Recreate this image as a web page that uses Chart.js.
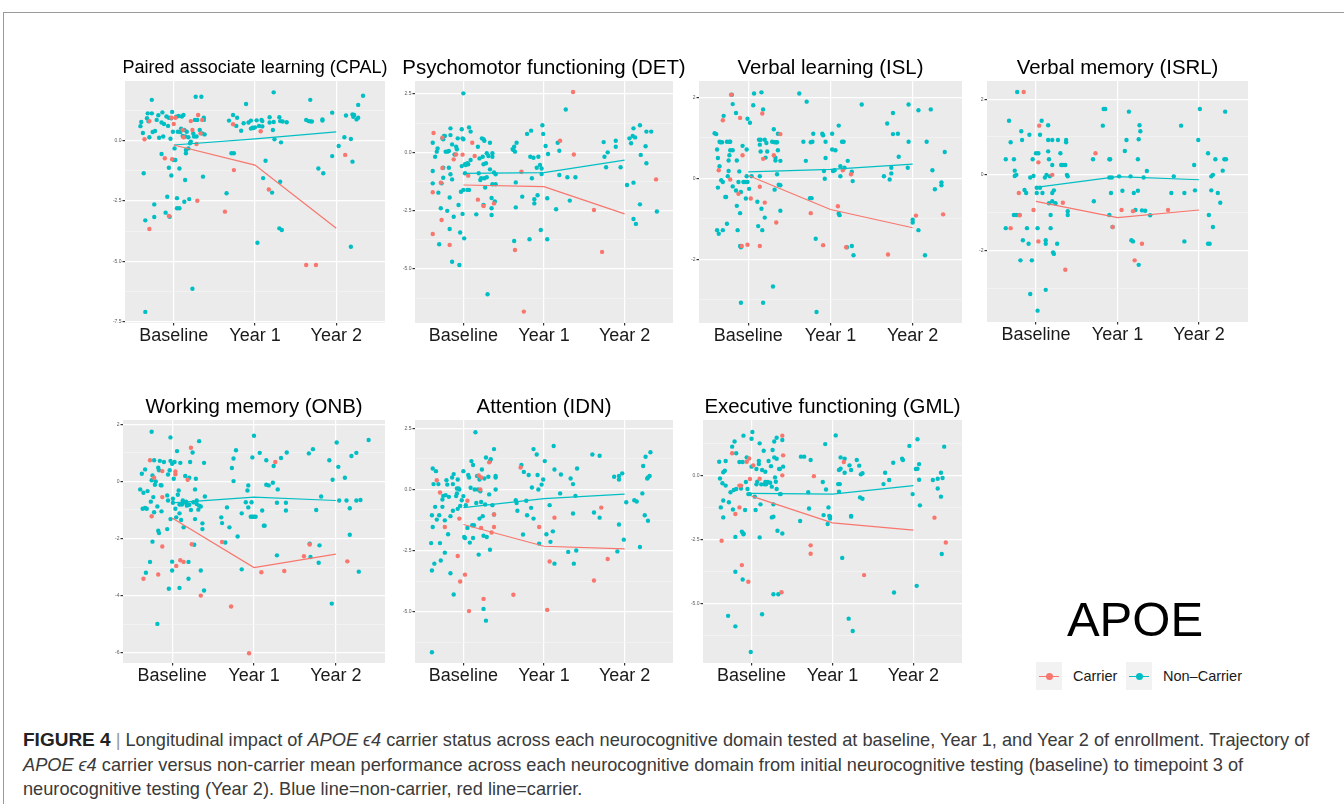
<!DOCTYPE html>
<html>
<head>
<meta charset="utf-8">
<script src="https://cdn.jsdelivr.net/npm/chart.js@4.4.1/dist/chart.umd.min.js"></script>
<style>
  html, body { margin: 0; padding: 0; background: #fff; }
  body { width: 1344px; height: 804px; position: relative; overflow: hidden; font-family: 'Liberation Sans', Arial, sans-serif; }
  #frame { position: absolute; left: 3px; top: 12px; right: -2px; bottom: -2px; border-top: 1px solid #9a9a9a; border-left: 1px solid #9a9a9a; }
  canvas { position: absolute; }
  #apoe { position: absolute; left: 1035px; width: 200px; top: 595px; font-size: 49px; line-height: 49px; text-align: center; color: #000; }
  .key { position: absolute; top: 662px; width: 26px; height: 28px; background: #f2f2f2; }
  .key::before { content: ''; position: absolute; left: 3px; right: 3px; top: 13.5px; height: 1.3px; background: var(--c); }
  .key::after { content: ''; position: absolute; left: 9.5px; top: 10.5px; width: 7px; height: 7px; border-radius: 50%; background: var(--c); }
  .ktxt { position: absolute; top: 669px; font-size: 14.5px; line-height: 14.5px; color: #1a1a1a; white-space: nowrap; }
  #caption { position: absolute; left: 23px; top: 728px; font-size: 18.2px; line-height: 24.5px; color: #3a3a3a; white-space: nowrap; }
  #caption b { color: #222; font-size: 19px; }
  #caption .sep { color: #999; }
</style>
</head>
<body>
<div id="frame"></div>

<canvas id="p1"></canvas>
<canvas id="p2"></canvas>
<canvas id="p3"></canvas>
<canvas id="p4"></canvas>
<canvas id="p5"></canvas>
<canvas id="p6"></canvas>
<canvas id="p7"></canvas>

<div id="apoe">APOE</div>
<div class="key" style="left:1036px; --c:#F8766D"></div>
<div class="ktxt" style="left:1073px">Carrier</div>
<div class="key" style="left:1126px; --c:#00BFC4"></div>
<div class="ktxt" style="left:1163px">Non–Carrier</div>

<div id="caption">
  <b>FIGURE 4</b> <span class="sep">|</span> Longitudinal impact of <i>APOE ϵ4</i> carrier status across each neurocognitive domain tested at baseline, Year 1, and Year 2 of enrollment. Trajectory of<br>
  <i>APOE ϵ4</i> carrier versus non-carrier mean performance across each neurocognitive domain from initial neurocognitive testing (baseline) to timepoint 3 of<br>
  neurocognitive testing (Year 2). Blue line=non-carrier, red line=carrier.
</div>

<script>
const timepoints = ["Baseline", "Year 1", "Year 2"];

// each point: [jittered timepoint, score]
const cpalCarrier = [[-0.36,0.06],[-0.30,0.81],[-0.30,-3.66],[-0.11,-0.73],[-0.06,-3.12],[-0.03,0.95],[-0.02,-0.77],[0.0,0.69],[0.02,0.95],[0.12,0.14],[0.11,0.44],[0.21,0.81],[0.23,0.44],[0.28,-0.14],[0.29,-2.49],[0.30,1.06],[0.33,0.3],[0.35,0.86],
  [0.63,-2.94],[0.73,0.68],[0.74,-1.22],[1.07,0.39],[1.17,-2.02],[1.63,-5.15],[1.75,-5.15],[2.11,-0.59]];
const cpalNonCarrier = [[-0.41,0.6],[-0.40,0.77],[-0.38,0.32],[-0.37,-1.35],[-0.35,-3.3],[-0.35,-7.09],[-0.33,0.93],[-0.32,1.13],[-0.31,0.8],[-0.30,0.14],[-0.27,1.69],[-0.27,1.13],[-0.26,0.36],[-0.24,-2.64],[-0.24,-3.16],[-0.23,0.4],[-0.21,0.86],[-0.19,1.05],[-0.18,0.12],[-0.15,-0.55],[-0.15,0.75],[-0.14,1.17],[-0.13,0.17],[-0.12,0.69],[-0.10,-2.98],[-0.09,1.0],[-0.08,-2.32],[-0.07,0.61],[-0.06,0.95],[-0.06,-1.12],[-0.05,-3.15],[-0.04,0.08],[-0.03,-1.44],[-0.03,0.93],[-0.02,1.19],[-0.01,0.37],[0.0,-0.8],[0.01,-0.32],[0.02,-0.8],[0.03,0.99],[0.04,-2.38],[0.04,-2.8],[0.05,0.37],[0.06,1.02],[0.07,-2.8],[0.07,-1.15],[0.08,0.36],[0.09,0.5],[0.10,1.0],[0.11,0.19],[0.12,1.06],[0.13,0.44],[0.13,-2.53],[0.14,-1.63],[0.14,0.17],[0.15,-0.39],[0.15,-0.52],[0.16,0.37],[0.18,0.14],[0.18,-0.32],[0.19,-2.42],[0.20,-0.11],[0.21,-0.04],[0.23,-6.13],[0.24,0.3],[0.25,0.17],[0.26,0.86],[0.27,1.82],[0.28,0.17],[0.29,0.86],[0.32,0.44],[0.34,1.82],[0.35,0.3],[0.36,-1.49],[0.37,0.86],[0.37,0.95],[0.38,0.26],
  [0.65,-2.18],[0.68,0.83],[0.71,-0.52],[0.73,1.06],[0.74,-0.52],[0.77,0.61],[0.78,0.95],[0.83,0.41],[0.86,0.72],[0.89,1.52],[0.92,0.75],[0.95,0.5],[0.95,0.83],[0.97,0.54],[0.98,0.52],[1.0,0.55],[1.02,0.84],[1.03,-4.23],[1.05,0.61],[1.08,0.86],[1.09,0.81],[1.09,0.59],[1.10,-1.55],[1.13,-0.83],[1.18,0.97],[1.18,0.75],[1.21,-2.15],[1.23,2.0],[1.23,0.77],[1.22,0.44],[1.24,0.06],[1.30,0.97],[1.31,0.81],[1.32,-0.07],[1.31,-1.7],[1.30,-3.63],[1.33,-3.7],[1.34,0.79],[1.39,0.76],
  [1.63,0.86],[1.66,0.81],[1.68,1.69],[1.68,0.8],[1.70,0.79],[1.78,-1.15],[1.83,0.83],[1.83,0.88],[1.84,-1.35],[1.95,-0.64],[1.95,1.16],[2.03,-0.22],[2.10,0.14],[2.12,1.04],[2.18,-4.39],[2.18,0.07],[2.20,1.09],[2.20,-0.87],[2.21,0.99],[2.22,1.06],[2.25,0.88],[2.27,0.95],[2.27,1.48],[2.33,1.86]];
const cpalCarrierMean = [-0.18, -1.01, -3.63];
const cpalNonCarrierMean = [-0.18, 0.07, 0.36];

const detCarrier = [[-0.38,-3.5],[-0.38,-1.71],[-0.37,0.83],[-0.28,-1.3],[-0.27,-2.9],[-0.26,0.63],[-0.26,-0.67],[-0.17,-3.97],[-0.12,-0.3],[-0.09,-0.09],[-0.01,-0.1],[0.06,-1.0],[0.11,0.41],[0.14,-0.16],[0.18,-2.03],[0.25,-2.3],[0.38,-2.19],
  [0.64,-4.19],[0.72,-0.83],[0.75,-6.83],[1.20,0.5],[1.36,2.59],[1.37,-0.09],[1.62,-2.47],[1.72,-4.27],[2.39,-1.16]];
const detNonCarrier = [[-0.38,0.41],[-0.38,-0.8],[-0.38,-1.33],[-0.35,-0.19],[-0.33,0.03],[-0.32,0.17],[-0.31,-1.73],[-0.30,-3.94],[-0.28,-2.4],[-0.27,-1.33],[-0.26,0.6],[-0.25,-0.66],[-0.25,0.56],[-0.25,-1.09],[-0.24,0.7],[-0.23,0.7],[-0.22,0.03],[-0.20,-2.51],[-0.20,0.03],[-0.18,0.06],[-0.18,-0.66],[-0.17,-1.94],[-0.17,-3.29],[-0.16,1.03],[-0.16,-0.94],[-0.16,0.74],[-0.14,-1.16],[-0.14,0.34],[-0.14,-4.69],[-0.12,-2.76],[-0.11,-0.09],[-0.09,0.24],[-0.08,0.13],[-0.07,0.6],[-0.06,-2.26],[-0.05,-4.83],[-0.04,-3.44],[-0.03,-1.69],[-0.02,0.99],[-0.02,-0.59],[-0.01,0.6],[-0.01,-2.64],[0.0,-1.61],[0.0,2.53],[0.0,0.56],[0.01,-3.69],[0.02,-0.51],[0.02,-0.9],[0.03,-0.54],[0.05,-0.47],[0.05,-1.61],[0.06,-0.51],[0.07,-1.61],[0.07,1.07],[0.09,-0.33],[0.09,0.89],[0.16,-2.66],[0.18,0.24],[0.19,-0.9],[0.20,-0.26],[0.21,-1.19],[0.22,-1.11],[0.23,0.6],[0.24,-0.19],[0.25,-2.26],[0.25,0.56],[0.25,-0.51],[0.26,0.5],[0.26,-1.11],[0.27,-1.51],[0.28,-0.47],[0.29,-1.07],[0.29,-0.04],[0.30,-6.09],[0.31,-0.16],[0.33,-0.73],[0.33,0.41],[0.35,-2.4],[0.35,-2.69],[0.35,-1.96],[0.36,-1.37],[0.36,-0.19],[0.36,-0.04],[0.38,-0.86],[0.39,-2.11],[0.40,-1.37],[0.40,-0.94],
  [0.61,0.14],[0.62,0.1],[0.63,0.24],[0.64,0.03],[0.63,-3.8],[0.65,-1.29],[0.65,-2.36],[0.66,0.41],[0.73,-1.9],[0.79,0.79],[0.82,-3.73],[0.83,-0.19],[0.84,0.93],[0.85,-1.11],[0.87,-0.23],[0.88,-2.01],[0.88,-2.19],[0.91,-0.66],[0.92,-1.84],[0.93,-0.19],[0.95,-0.54],[0.96,-3.33],[0.97,-0.69],[0.97,-0.93],[0.98,1.16],[0.99,0.79],[1.02,0.27],[1.04,-3.73],[1.04,-1.97],[1.05,-0.07],[1.15,-2.44],[1.17,0.41],[1.19,0.07],[1.19,-0.97],[1.27,1.84],[1.29,-1.07],[1.32,-2.07],[1.39,-1.07],
  [1.74,0.44],[1.75,-0.19],[1.77,-0.64],[1.79,0.0],[1.89,0.5],[1.89,0.24],[1.95,-0.64],[2.03,-1.4],[2.06,0.6],[2.08,0.39],[2.10,0.7],[2.11,1.03],[2.11,-1.3],[2.11,-2.86],[2.13,0.64],[2.14,-3.07],[2.19,-2.23],[2.19,1.16],[2.20,-0.11],[2.26,0.26],[2.27,0.89],[2.27,-0.47],[2.33,0.89],[2.40,-2.54]];
const detCarrierMean = [-1.4, -1.47, -2.64];
const detNonCarrierMean = [-0.9, -0.87, -0.33];

const islCarrier = [[-0.36,0.2],[-0.31,1.43],[-0.22,-0.03],[-0.21,2.06],[-0.12,-0.38],[-0.10,1.49],[-0.08,-1.67],[-0.07,0.57],[-0.01,-1.64],[0.03,-0.5],[0.14,-0.21],[0.14,-1.67],[0.17,1.6],[0.18,0.48],[0.20,-0.6],[0.31,0.57],[0.34,-1.09],[0.39,1.09],
  [0.76,-0.86],[0.91,-1.65],[1.09,-0.69],[1.15,0.2],[1.19,-1.7],[1.25,0.1],[1.70,-1.88],[2.04,-0.92],[2.37,-0.89]];
const islNonCarrier = [[-0.41,1.11],[-0.39,1.09],[-0.38,0.71],[-0.37,0.5],[-0.38,-1.28],[-0.37,-0.23],[-0.36,-1.37],[-0.35,0.3],[-0.35,0.9],[-0.34,0.89],[-0.33,-0.05],[-0.32,0.89],[-0.31,-1.28],[-0.31,-0.09],[-0.30,1.54],[-0.28,-0.46],[-0.27,-0.46],[-0.26,-1.12],[-0.26,0.9],[-0.25,0.05],[-0.24,0.44],[-0.24,0.18],[-0.23,0.9],[-0.23,0.57],[-0.22,0.69],[-0.22,0.9],[-0.20,2.06],[-0.19,0.69],[-0.19,1.83],[-0.19,-0.2],[-0.15,-0.3],[-0.15,1.61],[-0.14,-0.68],[-0.14,0.44],[-0.13,-1.28],[-0.12,-0.09],[-0.11,0.17],[-0.10,-0.86],[-0.10,-1.67],[-0.09,-3.07],[-0.09,-1.7],[-0.09,-0.34],[-0.07,0.8],[-0.06,-0.09],[-0.04,-0.09],[-0.03,-0.5],[-0.02,0.05],[-0.02,0.71],[-0.01,1.47],[-0.01,-0.09],[0.01,-0.26],[0.02,1.37],[0.04,0.05],[0.06,1.8],[0.07,2.09],[0.11,-0.58],[0.12,-1.18],[0.13,0.95],[0.14,0.05],[0.14,0.83],[0.15,0.66],[0.15,0.95],[0.16,2.12],[0.16,-0.75],[0.17,-1.28],[0.18,-3.07],[0.18,1.7],[0.20,0.95],[0.20,-0.97],[0.21,0.51],[0.22,0.87],[0.23,0.66],[0.29,0.9],[0.30,-2.67],[0.31,1.21],[0.32,-0.28],[0.32,0.89],[0.33,0.44],[0.33,0.51],[0.34,0.89],[0.35,0.1],[0.35,0.89],[0.36,1.1],[0.36,0.69],[0.37,-0.16],[0.39,-0.8],[0.39,-0.17],[0.39,0.43],
  [0.62,2.09],[0.67,0.9],[0.70,0.43],[0.71,1.89],[0.75,-0.49],[0.76,0.89],[0.77,-0.49],[0.78,0.9],[0.79,1.1],[0.82,-1.49],[0.83,-3.3],[0.90,1.1],[0.91,1.06],[0.92,0.18],[0.93,-0.01],[0.94,0.9],[0.94,0.5],[1.02,1.1],[1.02,0.71],[1.03,0.18],[1.05,0.2],[1.06,0.69],[1.10,1.3],[1.10,-0.87],[1.11,-0.91],[1.12,0.3],[1.12,0.05],[1.14,0.9],[1.16,0.9],[1.17,0.26],[1.20,-1.7],[1.21,0.43],[1.26,0.16],[1.26,-1.67],[1.27,-0.07],[1.28,-1.9],[1.38,1.82],
  [1.65,0.05],[1.69,1.35],[1.72,-0.03],[1.74,0.12],[1.74,0.26],[1.76,1.61],[1.76,1.09],[1.82,1.1],[1.83,0.53],[1.94,0.26],[1.95,1.82],[1.95,0.9],[2.0,-1.02],[2.0,-1.09],[2.07,-1.28],[2.07,1.68],[2.15,-1.9],[2.17,0.9],[2.22,1.7],[2.24,0.2],[2.27,-0.27],[2.35,-0.1],[2.35,-0.17],[2.39,0.65]];
const islCarrierMean = [0.07, -0.77, -1.22];
const islNonCarrierMean = [0.16, 0.22, 0.35];

const isrlCarrier = [[-0.31,-1.41],[-0.21,-0.48],[-0.20,-1.07],[-0.15,2.19],[-0.03,-0.93],[0.03,0.33],[0.04,1.3],[0.03,-1.76],[0.20,0.0],[0.33,-0.74],[0.36,-2.51],
  [0.73,0.57],[0.94,-1.38],[1.05,-0.93],[1.19,-0.96],[1.21,-2.26],[1.30,-1.82],[1.62,-0.93]];
const isrlNonCarrier = [[-0.37,0.41],[-0.37,-1.41],[-0.33,1.43],[-0.31,0.86],[-0.27,0.41],[-0.27,-1.06],[-0.26,0.11],[-0.26,-0.03],[-0.24,-1.06],[-0.24,0.0],[-0.23,2.19],[-0.20,-1.06],[-0.19,-2.26],[-0.18,1.15],[-0.17,0.92],[-0.16,-1.73],[-0.14,-0.4],[-0.12,-0.48],[-0.11,-1.41],[-0.09,-1.82],[-0.08,1.06],[-0.07,-0.07],[-0.07,-3.15],[-0.05,-2.26],[-0.04,0.41],[-0.03,-0.03],[0.0,0.57],[0.01,-0.34],[0.01,-0.48],[0.02,-1.41],[0.02,-3.59],[0.03,0.57],[0.05,-0.34],[0.05,1.06],[0.07,1.43],[0.08,-0.48],[0.11,-0.07],[0.12,-3.04],[0.12,-1.73],[0.12,-1.82],[0.13,0.0],[0.15,0.62],[0.15,1.31],[0.15,0.92],[0.16,-0.75],[0.16,0.41],[0.17,-0.04],[0.18,-1.41],[0.18,-1.06],[0.20,0.26],[0.20,0.92],[0.20,-0.48],[0.20,-0.7],[0.21,-2.05],[0.22,-2.09],[0.22,-0.41],[0.24,-0.75],[0.26,-1.82],[0.27,0.92],[0.30,0.57],[0.31,0.26],[0.33,0.26],[0.36,0.26],[0.37,0.92],[0.37,0.86],[0.38,0.0],[0.39,-0.04],[0.39,-0.96],[0.39,-1.06],
  [0.70,0.41],[0.71,-0.7],[0.82,1.3],[0.83,1.74],[0.85,1.74],[0.90,0.41],[0.90,-1.06],[0.90,-0.07],[0.91,0.41],[0.92,-0.48],[0.93,-0.07],[0.94,-1.38],[1.02,-0.04],[1.06,-0.42],[1.09,0.63],[1.11,0.92],[1.14,1.67],[1.16,-0.04],[1.17,-1.73],[1.19,-1.76],[1.20,-0.48],[1.22,-0.93],[1.25,-0.42],[1.25,0.41],[1.26,-2.38],[1.26,0.94],[1.27,1.31],[1.28,1.15],[1.30,-0.94],[1.32,-0.07],[1.34,-0.95],[1.36,0.1],[1.40,-1.07],
  [1.66,-0.48],[1.69,-0.04],[1.78,1.3],[1.82,-0.48],[1.82,-1.76],[1.94,0.26],[1.95,-0.41],[1.99,0.92],[2.01,1.74],[2.11,0.57],[2.12,-1.06],[2.11,-1.82],[2.13,-1.82],[2.15,-0.41],[2.15,-0.04],[2.17,-1.38],[2.17,0.0],[2.20,0.41],[2.23,-0.48],[2.26,-0.74],[2.29,0.11],[2.31,0.41],[2.32,1.67],[2.33,0.41]];
const isrlCarrierMean = [-0.7, -1.13, -0.93];
const isrlNonCarrierMean = [-0.33, -0.05, -0.13];

const onbCarrier = [[-0.35,-3.41],[-0.27,0.74],[-0.25,-1.22],[-0.22,0.13],[-0.17,-3.26],[-0.12,0.36],[-0.12,-0.55],[-0.12,-2.28],[0.04,0.35],[0.04,0.25],[0.05,-2.96],[0.10,-2.76],[0.14,-2.82],[0.19,0.06],[0.23,1.18],[0.24,-2.2],[0.35,-4.0],
  [0.61,-2.12],[0.72,-4.38],[0.94,-6.02],[1.09,-3.18],[1.26,0.68],[1.37,-3.14],[1.61,-2.62],[1.68,-2.21],[2.14,-2.8]];
const onbNonCarrier = [[-0.39,-0.28],[-0.37,0.27],[-0.36,-0.96],[-0.35,-0.4],[-0.33,0.42],[-0.33,-0.93],[-0.32,-3.2],[-0.31,-0.96],[-0.30,-0.34],[-0.27,-2.82],[-0.26,-0.71],[-0.25,1.74],[-0.25,0.04],[-0.24,-2.11],[-0.24,0.21],[-0.23,-0.55],[-0.22,0.74],[-0.22,-1.08],[-0.21,-0.12],[-0.20,0.0],[-0.18,-0.88],[-0.18,-4.99],[-0.17,-1.73],[-0.17,0.48],[-0.16,-1.81],[-0.16,0.39],[-0.15,0.72],[-0.14,-0.13],[-0.13,-0.14],[-0.13,-1.05],[-0.10,0.68],[-0.06,-0.49],[-0.06,-1.67],[-0.05,-0.67],[-0.05,0.24],[-0.04,-3.76],[-0.03,0.39],[-0.02,1.54],[-0.02,0.72],[-0.02,-1.32],[0.0,-2.81],[0.0,-3.12],[0.0,0.62],[0.01,-0.61],[0.01,-0.75],[0.02,0.09],[0.03,0.68],[0.04,-0.96],[0.05,-1.26],[0.06,1.06],[0.07,-0.47],[0.08,-0.32],[0.09,-0.81],[0.09,-1.12],[0.09,-3.73],[0.10,0.65],[0.11,-1.35],[0.12,-0.81],[0.13,-0.67],[0.14,-1.61],[0.15,-0.73],[0.16,0.19],[0.17,-0.71],[0.18,-0.79],[0.18,-0.85],[0.20,-2.82],[0.20,-3.41],[0.21,-0.82],[0.21,0.13],[0.22,0.68],[0.23,-1.0],[0.25,1.01],[0.26,-0.73],[0.27,-2.22],[0.28,-1.32],[0.28,-0.28],[0.29,0.09],[0.30,-0.67],[0.30,-0.79],[0.32,-0.99],[0.33,-0.85],[0.33,1.41],[0.35,-3.12],[0.35,-0.88],[0.37,-1.47],[0.37,-1.67],[0.39,0.65],[0.39,-3.82],[0.40,-0.53],
  [0.60,-1.26],[0.61,-1.46],[0.65,-2.14],[0.67,-0.91],[0.70,-1.61],[0.73,0.47],[0.75,0.8],[0.75,0.01],[0.78,1.09],[0.80,-1.93],[0.85,-1.12],[0.85,-3.08],[0.90,-0.73],[0.92,-0.32],[0.93,-0.14],[0.93,-0.91],[0.96,-1.24],[0.97,-0.73],[0.98,0.84],[0.98,-1.24],[1.0,1.6],[1.0,-1.24],[1.02,-1.24],[1.07,1.0],[1.10,-1.02],[1.12,-1.55],[1.13,-1.55],[1.15,0.74],[1.15,-0.12],[1.18,-0.14],[1.23,-0.05],[1.24,0.54],[1.28,-0.75],[1.29,-0.28],[1.28,-2.59],[1.33,0.82],[1.39,-0.75],[1.39,-1.02],[1.40,1.01],
  [1.67,0.98],[1.68,-2.18],[1.69,-2.65],[1.72,1.13],[1.76,-1.0],[1.79,-2.85],[1.80,-2.24],[1.82,-0.53],[1.92,0.74],[1.95,-4.28],[1.96,0.06],[2.01,1.36],[2.03,0.51],[2.04,-0.67],[2.11,0.13],[2.13,-0.67],[2.17,-0.94],[2.17,-1.87],[2.19,0.89],[2.25,1.0],[2.25,-0.67],[2.28,-3.16],[2.30,-0.65],[2.40,1.45]];
const onbCarrierMean = [-1.28, -3.02, -2.55];
const onbNonCarrierMean = [-0.75, -0.55, -0.67];

const idnCarrier = [[-0.33,0.38],[-0.29,-0.12],[-0.23,-1.53],[-0.07,-2.72],[-0.05,-1.19],[-0.04,-3.76],[0.02,-3.48],[0.05,-0.46],[0.07,-4.97],[0.19,0.57],[0.21,0.0],[0.22,0.49],[0.22,-1.57],[0.25,-4.47],[0.32,1.11],[0.35,-1.76],[0.38,-1.53],[0.38,-1.02],
  [0.62,-4.3],[0.71,0.9],[0.94,-1.53],[1.04,-4.92],[1.07,-2.94],[1.13,-1.15],[1.62,-3.72],[1.71,-0.74],[1.79,-2.84]];
const idnNonCarrier = [[-0.40,-2.19],[-0.39,-3.31],[-0.39,-1.05],[-0.38,0.86],[-0.38,-1.53],[-0.39,-6.65],[-0.37,0.22],[-0.36,-3.03],[-0.35,-0.71],[-0.34,0.75],[-0.33,-1.23],[-0.31,0.22],[-0.30,-1.05],[-0.29,-2.19],[-0.28,-2.9],[-0.26,-0.41],[-0.26,-0.71],[-0.25,-0.26],[-0.23,-1.26],[-0.23,-2.58],[-0.22,-0.23],[-0.21,0.38],[-0.20,0.2],[-0.19,-1.83],[-0.18,-0.3],[-0.16,-3.42],[-0.16,-1.09],[-0.14,0.49],[-0.13,0.22],[-0.13,-0.87],[-0.12,0.63],[-0.12,-4.29],[-0.09,-0.27],[-0.08,-0.16],[-0.08,0.04],[-0.07,-0.79],[-0.07,0.41],[-0.06,0.04],[-0.05,0.0],[-0.04,-0.67],[-0.02,-0.44],[0.0,0.75],[0.0,-0.27],[0.01,-1.94],[0.02,-1.98],[0.03,-0.64],[0.05,-1.57],[0.06,0.59],[0.07,0.49],[0.08,-2.17],[0.09,0.07],[0.10,1.16],[0.11,-1.46],[0.12,1.0],[0.12,-1.98],[0.13,-1.46],[0.14,0.0],[0.15,2.34],[0.16,-0.55],[0.17,0.55],[0.18,0.0],[0.19,-2.66],[0.20,0.41],[0.20,-1.19],[0.21,-0.07],[0.22,-0.51],[0.23,0.82],[0.24,-1.09],[0.25,-1.89],[0.25,-4.88],[0.26,0.45],[0.27,-0.61],[0.28,-5.36],[0.28,1.31],[0.29,-1.94],[0.31,0.52],[0.32,-0.2],[0.33,-2.46],[0.33,1.16],[0.34,1.24],[0.36,-0.64],[0.38,1.65],[0.38,-1.02],[0.40,0.55],[0.40,0.0],[0.40,0.49],
  [0.65,-0.44],[0.66,-0.55],[0.67,-0.87],[0.72,1.0],[0.74,-1.84],[0.75,0.72],[0.78,-0.46],[0.79,-1.05],[0.81,0.59],[0.84,-0.75],[0.85,0.08],[0.87,-1.19],[0.87,1.65],[0.91,1.43],[0.92,0.59],[0.93,0.0],[0.94,-2.21],[0.97,0.2],[0.99,0.41],[1.01,1.16],[1.03,-1.83],[1.07,-0.64],[1.08,-2.14],[1.11,-1.71],[1.12,1.78],[1.13,-3.03],[1.13,0.82],[1.20,-0.16],[1.21,0.61],[1.30,-2.55],[1.33,0.45],[1.36,0.22],[1.36,-0.98],[1.37,-3.03],[1.39,-0.26],[1.40,-2.49],[1.41,0.86],
  [1.60,1.43],[1.62,-0.94],[1.69,-1.15],[1.69,1.38],[1.87,0.52],[1.91,-2.53],[1.93,-1.43],[1.93,0.55],[1.93,0.41],[1.97,0.66],[1.99,-2.05],[2.02,-0.52],[2.12,-0.44],[2.15,-0.49],[2.19,-2.35],[2.22,-0.16],[2.23,0.96],[2.25,-1.05],[2.26,1.34],[2.28,0.45],[2.29,-1.28],[2.29,0.49],[2.31,0.55],[2.32,1.52]];
const idnCarrierMean = [-1.43, -2.32, -2.43];
const idnNonCarrierMean = [-0.74, -0.37, -0.19];

const gmlCarrier = [[-0.37,-2.55],[-0.24,0.86],[-0.20,-1.51],[-0.15,-0.4],[-0.15,-1.25],[-0.13,-0.4],[-0.12,-3.5],[-0.06,0.53],[-0.04,-4.15],[-0.03,0.66],[-0.02,-0.14],[0.02,0.39],[0.10,-0.13],[0.37,-4.56],[0.38,1.55],[0.39,0.78],[0.38,0.0],
  [0.73,-2.73],[0.73,-3.06],[0.77,-0.03],[1.14,0.52],[1.39,-3.89],[2.26,-1.65],[2.40,-2.62]];
const gmlNonCarrier = [[-0.40,0.53],[-0.39,-0.12],[-0.38,-1.25],[-0.36,-0.31],[-0.35,0.12],[-0.35,-0.98],[-0.35,-1.64],[-0.33,0.18],[-0.32,0.56],[-0.32,-0.4],[-0.29,-5.48],[-0.28,-1.05],[-0.26,-0.66],[-0.24,1.12],[-0.23,-1.33],[-0.22,-0.57],[-0.21,1.32],[-0.20,-2.4],[-0.20,-5.89],[-0.20,-3.76],[-0.19,0.86],[-0.19,-0.53],[-0.15,0.52],[-0.13,-0.51],[-0.12,-2.2],[-0.11,0.52],[-0.11,-4.06],[-0.10,-2.27],[-0.10,1.55],[-0.10,-2.3],[-0.08,-1.35],[-0.07,-0.26],[-0.06,0.7],[-0.05,-0.53],[-0.04,-0.73],[-0.02,-0.73],[-0.01,-6.89],[0.0,1.43],[0.0,0.34],[0.01,1.69],[0.04,-0.83],[0.05,-1.35],[0.06,-0.35],[0.06,0.25],[0.07,-0.25],[0.09,0.44],[0.09,0.56],[0.10,1.25],[0.10,-2.42],[0.11,-1.13],[0.12,-0.35],[0.13,0.21],[0.13,-5.42],[0.15,0.96],[0.16,-0.35],[0.17,0.14],[0.17,-0.26],[0.18,-0.35],[0.20,-0.26],[0.21,0.56],[0.23,-0.29],[0.24,0.36],[0.25,-1.64],[0.25,-0.44],[0.26,0.99],[0.27,-4.64],[0.27,-1.13],[0.27,-1.61],[0.28,1.32],[0.28,0.7],[0.29,-0.08],[0.30,-0.25],[0.31,-0.53],[0.31,1.47],[0.31,0.65],[0.32,-2.16],[0.33,-4.64],[0.34,0.25],[0.35,-0.73],[0.35,0.25],[0.36,-0.73],[0.38,1.38],[0.38,-2.27],[0.39,0.34],
  [0.60,-1.78],[0.61,0.73],[0.65,0.73],[0.70,-0.66],[0.71,-1.29],[0.73,0.6],[0.88,-0.26],[0.89,-1.55],[0.91,1.22],[0.92,-0.55],[0.94,-1.9],[0.95,-1.25],[0.96,-1.58],[0.97,-1.61],[0.97,-1.68],[1.04,1.56],[1.07,-0.34],[1.08,-0.64],[1.08,0.21],[1.09,-0.34],[1.10,0.7],[1.10,0.26],[1.12,-3.22],[1.15,0.65],[1.15,0.1],[1.20,-5.59],[1.21,0.39],[1.23,-1.58],[1.23,-1.61],[1.23,0.21],[1.25,-6.07],[1.30,0.6],[1.33,0.38],[1.34,-0.86],[1.35,0.04],[1.37,0.08],[1.37,-0.91],
  [1.63,-0.34],[1.65,0.1],[1.70,-0.18],[1.75,0.49],[1.76,-4.57],[1.86,0.65],[1.87,0.6],[1.95,1.15],[1.99,-0.73],[2.03,0.25],[2.04,-4.31],[2.05,0.26],[2.05,1.41],[2.07,0.44],[2.07,-0.17],[2.08,-1.17],[2.24,-0.18],[2.30,-0.51],[2.30,-0.13],[2.34,0.1],[2.34,-0.83],[2.35,-3.07],[2.36,-0.1],[2.38,1.12]];
const gmlCarrierMean = [-0.81, -1.85, -2.14];
const gmlNonCarrierMean = [-0.7, -0.73, -0.4];

// panel titles and y limits
const titles = ["Paired associate learning (CPAL)", "Psychomotor functioning (DET)", "Verbal learning (ISL)", "Verbal memory (ISRL)",
  "Working memory (ONB)", "Attention (IDN)", "Executive functioning (GML)"];
const yLimits = [[-7.55, 2.47], [-7.32, 3.06], [-3.57, 2.4], [-3.89, 2.48], [-6.36, 2.15], [-7.09, 2.84], [-7.32, 2.16]];
const yBreakSteps = [2.5, 2.5, 2, 2, 2, 2.5, 2.5];

// plot area boxes [left, top, width, height] and title font sizes
const plotBoxes = [[125, 81, 260, 242], [415, 81, 258, 242], [699, 81, 263, 242], [987, 81, 261, 241],
  [123, 420, 262, 243], [415, 420, 258, 243], [703, 420, 259, 243]];
const titleSizes = [18, 20.4, 20.4, 20.4, 20.4, 20.4, 20.4];

const RED = "#F8766D", TEAL = "#00BFC4";
const FONT = "'Liberation Sans', Arial, Helvetica, sans-serif";

const panelBg = {
  id: "panelBg",
  beforeDraw(chart) {
    const a = chart.chartArea, c = chart.ctx;
    c.save();
    c.fillStyle = "#EBEBEB";
    c.fillRect(a.left, a.top, a.right - a.left, a.bottom - a.top);
    c.restore();
  }
};

const toPts = arr => arr.map(p => ({ x: p[0], y: p[1] }));
const meanPts = arr => arr.map((y, i) => ({ x: i, y: y }));
const isMajor = (v, step) => Math.abs(v / step - Math.round(v / step)) < 1e-6;

function makePanel(i, carrier, nonCarrier, carrierMean, nonCarrierMean) {
  const [left, top, w, h] = plotBoxes[i];
  const [yMin, yMax] = yLimits[i];
  const step = yBreakSteps[i];
  const tSize = titleSizes[i];
  const padBottom = Math.min(2, 25 - tSize * 1.2);
  const canvas = document.getElementById("p" + (i + 1));
  canvas.width = w + 40;
  canvas.height = 25 + h + 30;
  canvas.style.left = (left - 20) + "px";
  canvas.style.top = (top - 25) + "px";

  new Chart(canvas, {
    type: "scatter",
    data: {
      datasets: [
        { type: "line", data: meanPts(carrierMean), borderColor: RED, borderWidth: 1.2, pointRadius: 0, fill: false, order: 0 },
        { type: "line", data: meanPts(nonCarrierMean), borderColor: TEAL, borderWidth: 1.2, pointRadius: 0, fill: false, order: 0 },
        { data: toPts(carrier), backgroundColor: RED, borderWidth: 0, pointRadius: 2.2, order: 1 },
        { data: toPts(nonCarrier), backgroundColor: TEAL, borderWidth: 0, pointRadius: 2.2, order: 2 },
      ],
    },
    options: {
      responsive: false,
      animation: false,
      devicePixelRatio: 1,
      layout: { padding: 0 },
      plugins: {
        legend: { display: false },
        tooltip: { enabled: false },
        title: {
          display: true,
          text: titles[i],
          color: "#000",
          font: { family: FONT, size: tSize, weight: "normal", lineHeight: 1.2 },
          padding: { top: 25 - tSize * 1.2 - padBottom, bottom: padBottom },
        },
      },
      scales: {
        x: {
          type: "linear",
          min: -0.6,
          max: 2.6,
          afterBuildTicks: axis => { axis.ticks = timepoints.map((t, k) => ({ value: k })); },
          afterFit: s => { s.height = 30; },
          ticks: {
            autoSkip: false, maxRotation: 0, padding: 0,
            color: "#1a1a1a",
            font: { family: FONT, size: 18 },
            callback: v => timepoints[v],
          },
          grid: { color: "#ffffff", lineWidth: 1.2, tickColor: "#333333", tickLength: 2.5 },
          border: { display: false },
        },
        y: {
          min: yMin,
          max: yMax,
          afterBuildTicks: axis => {
            const half = step / 2, out = [];
            for (let v = Math.ceil(yMin / half) * half; v <= yMax + 1e-9; v += half) out.push({ value: +v.toFixed(4) });
            axis.ticks = out;
          },
          afterFit: s => { s.width = 20; },
          ticks: {
            autoSkip: false, padding: 1,
            color: "#5a5a5a",
            font: { family: FONT, size: 5 },
            callback: v => isMajor(v, step) ? (step % 1 ? v.toFixed(1) : v.toFixed(0)) : "",
          },
          grid: {
            color: ctx => (ctx.tick && isMajor(ctx.tick.value, step)) ? "#ffffff" : "#f5f5f5",
            lineWidth: ctx => (ctx.tick && isMajor(ctx.tick.value, step)) ? 1.2 : 0.7,
            tickColor: ctx => (ctx.tick && isMajor(ctx.tick.value, step)) ? "#333333" : "rgba(0,0,0,0)",
            tickLength: 2.5,
          },
          border: { display: false },
        },
        yRight: {
          position: "right",
          display: true,
          afterFit: s => { s.width = 20; },
          ticks: { display: false },
          grid: { display: false },
          border: { display: false },
        },
      },
    },
    plugins: [panelBg],
  });
}

makePanel(0, cpalCarrier, cpalNonCarrier, cpalCarrierMean, cpalNonCarrierMean);
makePanel(1, detCarrier, detNonCarrier, detCarrierMean, detNonCarrierMean);
makePanel(2, islCarrier, islNonCarrier, islCarrierMean, islNonCarrierMean);
makePanel(3, isrlCarrier, isrlNonCarrier, isrlCarrierMean, isrlNonCarrierMean);
makePanel(4, onbCarrier, onbNonCarrier, onbCarrierMean, onbNonCarrierMean);
makePanel(5, idnCarrier, idnNonCarrier, idnCarrierMean, idnNonCarrierMean);
makePanel(6, gmlCarrier, gmlNonCarrier, gmlCarrierMean, gmlNonCarrierMean);
</script>
</body>
</html>
